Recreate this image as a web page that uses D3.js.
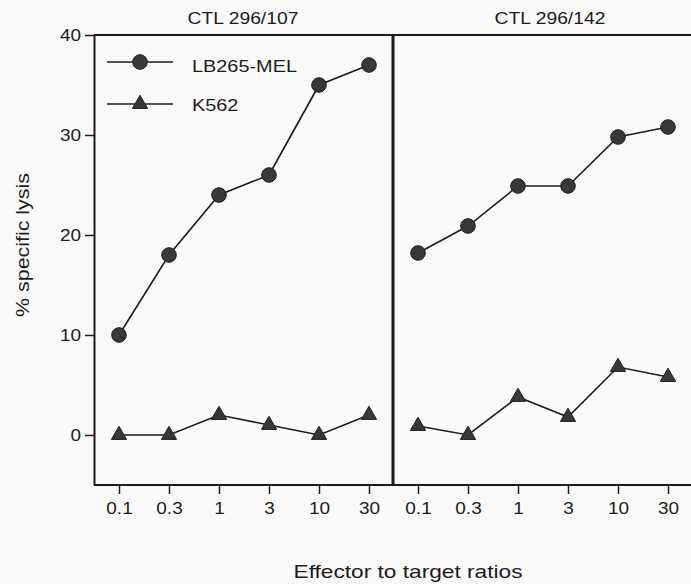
<!DOCTYPE html>
<html><head><meta charset="utf-8">
<script src="https://cdn.jsdelivr.net/npm/d3@7"></script>
<style>body{margin:0;background:#fafaf8;} svg{display:block;font-family:"Liberation Sans",Arial,sans-serif;}</style>
</head><body>
<svg id="c" width="691" height="584"></svg>
<script>
const ratios = ["0.1","0.3","1","3","10","30"];
const panels = ["CTL 296/107","CTL 296/142"];
const seriesNames = ["LB265-MEL","K562"];
const lb265_107 = [10,18,24,26,35,37];
const k562_107 = [0,0,2,1,0,2];
const lb265_142 = [18.2,20.9,24.9,24.9,29.8,30.8];
const k562_142 = [0.9,0,3.8,1.8,6.8,5.8];
const yTicks = [0,10,20,30,40];

const svg = d3.select("#c");
const ink = "#1c1c1c", mark = "#383838";
const plotTop = 35, plotBottom = 485;
const y = d3.scaleLinear().domain([-5,40]).range([plotBottom, plotTop]);
const FONT = "Liberation Sans, Arial, sans-serif";

function addText(parent, x, yy, str, size, sx, anchor, rot){
  return parent.append("text")
    .attr("transform", `translate(${x},${yy}) rotate(${rot||0}) scale(${sx},1)`)
    .attr("text-anchor", anchor || "middle")
    .attr("font-size", size).attr("font-family", FONT).attr("fill", ink).text(str);
}

const panelDefs = [
  {x0:94, x1:393, tx:243, title:panels[0], data:[lb265_107,k562_107]},
  {x0:393, x1:691, tx:550, title:panels[1], data:[lb265_142,k562_142]}
];

const tri = d3.symbol().type(d3.symbolTriangle).size(100);

panelDefs.forEach((p)=>{
  const x = d3.scalePoint().domain(ratios).range([p.x0+25, p.x0+275]);
  const g = svg.append("g");
  const xa = g.append("g").attr("transform",`translate(0,${plotBottom})`)
    .call(d3.axisBottom(x).tickSize(9).tickPadding(5).tickSizeOuter(0));
  xa.select(".domain").remove();
  xa.selectAll("line").attr("stroke",ink).attr("stroke-width",1.5);
  xa.selectAll("text").attr("fill",ink).attr("font-size",16.5).attr("font-family",FONT)
    .attr("dy",null).attr("y",null).attr("transform","translate(0,29) scale(1.15,1)");
  g.append("line").attr("x1",p.x0).attr("x2",p.x1).attr("y1",y(-5)).attr("y2",y(-5)).attr("stroke",ink).attr("stroke-width",2);
  g.append("line").attr("x1",p.x0).attr("x2",p.x1).attr("y1",y(40)).attr("y2",y(40)).attr("stroke",ink).attr("stroke-width",2);
  addText(g, p.tx, 24, p.title, 16.5, 1.17, "middle");
  const line = d3.line().x((d,i)=>x(ratios[i])).y(d=>y(d));
  p.data.forEach((vals,si)=>{
    g.append("path").attr("d",line(vals)).attr("fill","none").attr("stroke",ink).attr("stroke-width",1.6);
    if(si===0){
      g.selectAll(null).data(vals).enter().append("circle")
        .attr("cx",(d,i)=>x(ratios[i])).attr("cy",d=>y(d)).attr("r",7.3)
        .attr("fill",mark).attr("stroke",ink).attr("stroke-width",1);
    } else {
      g.selectAll(null).data(vals).enter().append("path").attr("d",tri)
        .attr("transform",(d,i)=>`translate(${x(ratios[i])},${y(d)})`)
        .attr("fill",mark).attr("stroke",ink).attr("stroke-width",1);
    }
  });
});

const ya = svg.append("g").attr("transform","translate(94,0)")
  .call(d3.axisLeft(y).tickValues(yTicks).tickSize(9).tickPadding(5).tickSizeOuter(0));
ya.select(".domain").attr("stroke",ink).attr("stroke-width",2);
ya.selectAll("line").attr("stroke",ink).attr("stroke-width",1.5);
ya.selectAll("text").attr("fill",ink).attr("font-size",16.5).attr("font-family",FONT)
  .attr("x",null).attr("transform","translate(-13,0) scale(1.15,1)");
svg.append("line").attr("x1",393).attr("x2",393).attr("y1",y(40)).attr("y2",y(-5)).attr("stroke",ink).attr("stroke-width",3);

addText(svg, 29, 245, "% specific lysis", 18, 1.19, "middle", -90);
addText(svg, 408, 578, "Effector to target ratios", 18, 1.26, "middle");

const leg = svg.append("g");
seriesNames.forEach((n,i)=>{
  const ly = [62,104][i];
  leg.append("line").attr("x1",107).attr("x2",173).attr("y1",ly).attr("y2",ly).attr("stroke",ink).attr("stroke-width",1.6);
  if(i===0) leg.append("circle").attr("cx",140).attr("cy",ly).attr("r",7.3).attr("fill",mark).attr("stroke",ink);
  else leg.append("path").attr("d",tri).attr("transform",`translate(140,${ly})`).attr("fill",mark).attr("stroke",ink);
  addText(leg, 192, [72,111][i], n, 17.3, 1.15, "start");
});
</script>
</body></html>
